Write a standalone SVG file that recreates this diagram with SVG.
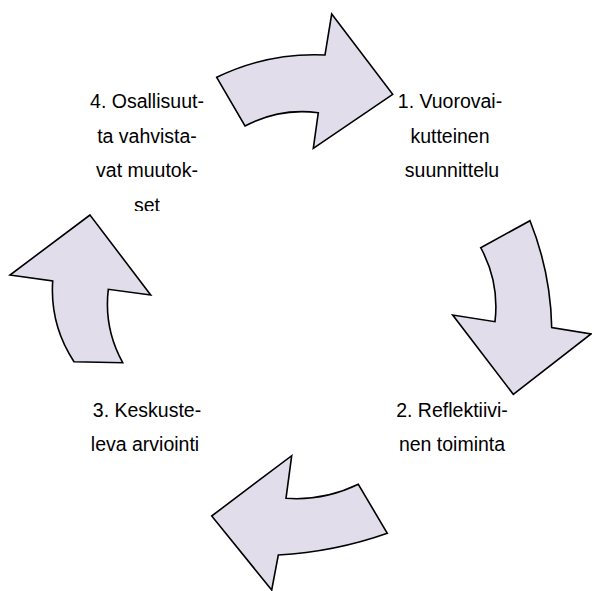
<svg xmlns="http://www.w3.org/2000/svg" width="592" height="591" viewBox="0 0 592 591">
  <style>
    .arrow { fill: #E1DDEB; stroke: #000; stroke-width: 1.6; stroke-linejoin: miter; }
    .label { font-family: "Liberation Sans", Arial, sans-serif; font-size: 19.5px; fill: #000; text-anchor: middle; }
  </style>
  <defs>
    <!-- the last line of step 4 overflows its text box and is cut off -->
    <clipPath id="clip-step4">
      <rect x="0" y="0" width="300" height="211"/>
    </clipPath>
  </defs>
  <rect width="592" height="591" fill="#fff"/>

  <!-- cycle arrows -->
  <g id="connectors">
    <path id="arrow-top" class="arrow" d="M216.7,77.3 Q268,52.4 325,55 L331.7,14 L392.7,94.3 L313.3,148.3 L318.3,112.7 Q279.5,107.6 245,126 Z"/>
    <path id="arrow-right" class="arrow" d="M480.7,247.7 L530,220.7 Q550.7,272.5 551.7,327.5 L591,334 L513.3,394.3 L452.7,315 L495,321.7 Q499.6,282.4 480.7,247.7 Z"/>
    <path id="arrow-bottom" class="arrow" d="M358.3,484.3 Q324,501 286,498.3 L291.7,455.7 L211.7,516 L271.7,590 L278.3,555 Q334.4,552 387.3,533.3 Z"/>
    <path id="arrow-left" class="arrow" d="M90,215 L10,275 L52.7,281 Q49.8,324.9 74,361.7 L122.7,362.7 Q103.7,328.3 108.3,289.3 L150.7,295 Z"/>
  </g>

  <g id="step1">
    <text class="label" x="450" y="108">1. Vuorovai-</text>
    <text class="label" x="450" y="142.5">kutteinen</text>
    <text class="label" x="452" y="177">suunnittelu</text>
  </g>

  <g id="step2">
    <text class="label" x="452" y="417">2. Reflektiivi-</text>
    <text class="label" x="452" y="451">nen toiminta</text>
  </g>

  <g id="step3">
    <text class="label" x="147" y="417">3. Keskuste-</text>
    <text class="label" x="145" y="451">leva arviointi</text>
  </g>

  <g id="step4" clip-path="url(#clip-step4)">
    <text class="label" x="147" y="108">4. Osallisuut-</text>
    <text class="label" x="147" y="142.5">ta vahvista-</text>
    <text class="label" x="147" y="177">vat muutok-</text>
    <text class="label" x="147" y="212">set</text>
  </g>
</svg>
